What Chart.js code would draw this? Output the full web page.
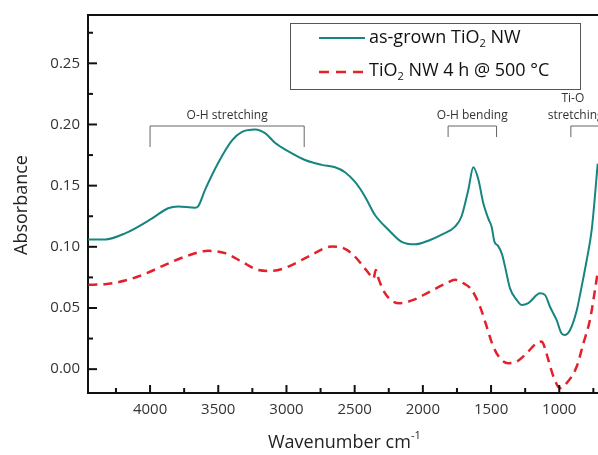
<!DOCTYPE html>
<html>
<head>
<meta charset="utf-8">
<script src="https://cdn.jsdelivr.net/npm/chart.js@4"></script>
<style>
  html, body { margin: 0; padding: 0; background: #fff; overflow: hidden; }
  canvas { display: block; }
</style>
</head>
<body>
<canvas id="ftir" width="598" height="455"></canvas>
<script>
// FTIR spectra - as-grown vs annealed TiO2 nanowires

// as-grown TiO2 NW (solid teal)
const grownWave = [4454, 4330, 4183, 3988, 3868, 3795, 3670, 3648, 3597, 3501, 3399, 3326, 3230, 3157, 3084,
  2986, 2864, 2741, 2644, 2571, 2497, 2424, 2351, 2253, 2155, 2058, 1960, 1862, 1764, 1716, 1667, 1630,
  1593, 1557, 1520, 1495, 1475, 1450, 1420, 1398, 1361, 1312, 1276, 1227, 1141, 1105, 1068, 1019, 982,
  958, 921, 872, 836, 799, 762, 718];
const grownAbs = [0.106, 0.106, 0.111, 0.123, 0.1315, 0.133, 0.132, 0.133, 0.1465, 0.1685, 0.187, 0.194, 0.196, 0.193, 0.185,
  0.178, 0.171, 0.167, 0.165, 0.161, 0.153, 0.141, 0.126, 0.114, 0.104, 0.102, 0.105, 0.110, 0.1165, 0.125, 0.1465, 0.165,
  0.155, 0.1356, 0.123, 0.116, 0.104, 0.101, 0.094, 0.084, 0.066, 0.0566, 0.0525, 0.054, 0.062, 0.0607, 0.051, 0.040, 0.029,
  0.028, 0.032, 0.048, 0.0675, 0.089, 0.114, 0.168];

// TiO2 NW 4 h @ 500 °C (dashed red)
const annealWave = [4452, 4330, 4183, 4037, 3890, 3743, 3573, 3450, 3328, 3206, 3108, 2986, 2840, 2668, 2583,
  2510, 2436, 2387, 2362, 2345, 2322, 2278, 2217, 2168, 2070, 1948, 1825, 1764, 1704, 1642, 1581, 1532,
  1484, 1435, 1374, 1312, 1239, 1166, 1130, 1117, 1080, 1043, 995, 946, 872, 823, 775, 738, 716];
const annealAbs = [0.069, 0.0694, 0.0724, 0.0779, 0.0852, 0.092, 0.0967, 0.0948, 0.0879, 0.0811, 0.0803, 0.0838, 0.092, 0.1002, 0.0989,
  0.0934, 0.0838, 0.077, 0.074, 0.081, 0.073, 0.0621, 0.0552, 0.0539, 0.0566, 0.0634, 0.0703, 0.073, 0.0703, 0.0648, 0.0511, 0.0348,
  0.0185, 0.009, 0.0049, 0.0062, 0.0131, 0.0212, 0.0225, 0.0207, 0.0076, -0.006, -0.0155, -0.0114, 0.0021, 0.0212, 0.0403, 0.0648, 0.081];

const xMajor = [4000, 3500, 3000, 2500, 2000, 1500, 1000];
const xMinor = [4250, 3750, 3250, 2750, 2250, 1750, 1250, 750];
const yMajor = [0.00, 0.05, 0.10, 0.15, 0.20, 0.25];
const yMinor = [0.025, 0.075, 0.125, 0.175, 0.225, 0.275];

const TEAL = '#16857f';
const RED = '#e3202b';
const FONT = '"Open Sans", "DejaVu Sans", sans-serif';

function toPoints(xs, ys) {
  return xs.map((x, i) => ({ x: x, y: ys[i] }));
}

// draw text with subscript / superscript pieces
function richText(ctx, parts, x, y, size) {
  let cx = x;
  parts.forEach(p => {
    const s = p.sub || p.sup ? Math.round(size * 0.62) : size;
    ctx.font = s + 'px ' + FONT;
    const dy = p.sub ? size * 0.32 : (p.sup ? -size * 0.42 : 0);
    ctx.fillText(p.t, cx, y + dy);
    cx += ctx.measureText(p.t).width;
  });
}

function bracket(ctx, x, left, right, top, dropL, dropR) {
  const a = x.getPixelForValue(left);
  const b = x.getPixelForValue(right);
  ctx.beginPath();
  ctx.moveTo(a, top + dropL);
  ctx.lineTo(a, top);
  ctx.lineTo(b, top);
  if (dropR) ctx.lineTo(b, top + dropR);
  ctx.stroke();
}

const frame = {
  id: 'frame',
  afterDraw(chart) {
    const { ctx, chartArea: a, scales: { x, y } } = chart;
    ctx.save();

    // top frame line
    ctx.strokeStyle = '#111';
    ctx.lineWidth = 2;
    ctx.beginPath();
    ctx.moveTo(a.left, a.top);
    ctx.lineTo(a.right, a.top);
    ctx.stroke();

    // inward ticks
    ctx.lineWidth = 2;
    xMajor.forEach(v => {
      const px = x.getPixelForValue(v);
      ctx.beginPath(); ctx.moveTo(px, a.bottom); ctx.lineTo(px, a.bottom - 8); ctx.stroke();
    });
    xMinor.forEach(v => {
      const px = x.getPixelForValue(v);
      ctx.beginPath(); ctx.moveTo(px, a.bottom); ctx.lineTo(px, a.bottom - 5); ctx.stroke();
    });
    yMajor.forEach(v => {
      const py = y.getPixelForValue(v);
      ctx.beginPath(); ctx.moveTo(a.left, py); ctx.lineTo(a.left + 9, py); ctx.stroke();
    });
    yMinor.forEach(v => {
      const py = y.getPixelForValue(v);
      ctx.beginPath(); ctx.moveTo(a.left, py); ctx.lineTo(a.left + 5, py); ctx.stroke();
    });

    // band annotations
    ctx.strokeStyle = '#666';
    ctx.lineWidth = 1;
    bracket(ctx, x, 4000, 2870, 126, 21, 21);
    bracket(ctx, x, 1815, 1460, 126, 11, 11);
    bracket(ctx, x, 915, 700, 126, 11, 0);

    ctx.fillStyle = '#333';
    ctx.font = '12px ' + FONT;
    ctx.textAlign = 'center';
    ctx.textBaseline = 'middle';
    ctx.fillText('O-H stretching', x.getPixelForValue(3435), 116);
    ctx.fillText('O-H bending', x.getPixelForValue(1638), 116);
    ctx.fillText('Ti-O', x.getPixelForValue(900), 99);
    ctx.fillText('stretching', x.getPixelForValue(880), 116);

    // legend
    ctx.fillStyle = '#fff';
    ctx.fillRect(290, 23, 291, 66);
    ctx.strokeStyle = '#555';
    ctx.lineWidth = 1;
    ctx.strokeRect(290.5, 23.5, 290, 66);

    ctx.lineWidth = 2;
    ctx.strokeStyle = TEAL;
    ctx.beginPath(); ctx.moveTo(319, 38); ctx.lineTo(365, 38); ctx.stroke();
    ctx.strokeStyle = RED;
    ctx.lineWidth = 2.5;
    ctx.setLineDash([10, 7]);
    ctx.beginPath(); ctx.moveTo(319, 72); ctx.lineTo(367, 72); ctx.stroke();
    ctx.setLineDash([]);

    ctx.fillStyle = '#111';
    ctx.textAlign = 'left';
    richText(ctx, [{ t: 'as-grown TiO' }, { t: '2', sub: true }, { t: ' NW' }], 369, 38, 18);
    richText(ctx, [{ t: 'TiO' }, { t: '2', sub: true }, { t: ' NW 4 h @ 500 °C' }], 369, 71, 18);

    // axis titles
    ctx.fillStyle = '#222';
    richText(ctx, [{ t: 'Wavenumber cm' }, { t: '-1', sup: true }], 268, 443, 18);
    ctx.translate(22, 205);
    ctx.rotate(-Math.PI / 2);
    ctx.textAlign = 'center';
    ctx.font = '18px ' + FONT;
    ctx.fillText('Absorbance', 0, 0);

    ctx.restore();
  }
};

new Chart(document.getElementById('ftir'), {
  type: 'line',
  data: {
    datasets: [
      {
        label: 'as-grown TiO2 NW',
        data: toPoints(grownWave, grownAbs),
        borderColor: TEAL,
        borderWidth: 2,
        pointRadius: 0,
        cubicInterpolationMode: 'monotone'
      },
      {
        label: 'TiO2 NW 4 h @ 500 °C',
        data: toPoints(annealWave, annealAbs),
        borderColor: RED,
        borderWidth: 2.5,
        borderDash: [9, 6],
        pointRadius: 0,
        cubicInterpolationMode: 'monotone'
      }
    ]
  },
  options: {
    responsive: false,
    animation: false,
    layout: { padding: { top: 15, right: 0, left: 0, bottom: 0 } },
    plugins: { legend: { display: false }, tooltip: { enabled: false } },
    scales: {
      x: {
        type: 'linear',
        reverse: true,
        min: 716,
        max: 4455,
        grid: { display: false, drawTicks: false },
        border: { display: true, color: '#111', width: 2 },
        ticks: {
          color: '#333',
          font: { family: FONT, size: 15 },
          padding: 8,
          includeBounds: false,
          callback: v => String(v)
        },
        afterBuildTicks: s => { s.ticks = xMajor.map(v => ({ value: v })); },
        afterFit: s => { s.height = 62; s.paddingLeft = 0; s.paddingRight = 0; }
      },
      y: {
        min: -0.0195,
        max: 0.2895,
        grid: { display: false, drawTicks: false },
        border: { display: true, color: '#111', width: 2 },
        ticks: {
          color: '#333',
          font: { family: FONT, size: 15 },
          padding: 8,
          includeBounds: false,
          callback: v => v.toFixed(2)
        },
        afterBuildTicks: s => { s.ticks = yMajor.map(v => ({ value: v })); },
        afterFit: s => { s.width = 88; s.paddingTop = 0; s.paddingBottom = 0; }
      }
    }
  },
  plugins: [frame]
});
</script>
</body>
</html>
